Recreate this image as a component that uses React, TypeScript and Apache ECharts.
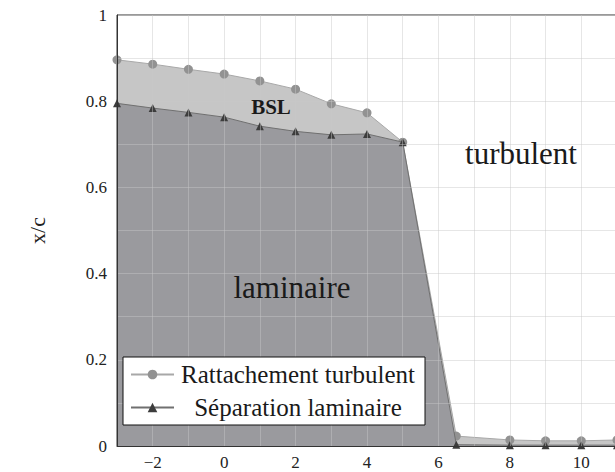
import React, { useEffect, useRef } from "react";
import * as echarts from "echarts";

const xValues = [-3, -2, -1, 0, 1, 2, 3, 4, 5, 6.5, 8, 9, 10, 11];
const rattachement = [0.896, 0.886, 0.874, 0.863, 0.847, 0.828, 0.794, 0.773, 0.705, 0.023, 0.014, 0.012, 0.012, 0.014];
const separation = [0.795, 0.784, 0.774, 0.763, 0.742, 0.730, 0.722, 0.724, 0.705, 0.003, 0.002, 0.002, 0.002, 0.002];
const seriesNames = ["Rattachement turbulent", "Séparation laminaire"];
const regionLabels = { bsl: "BSL", turbulent: "turbulent", laminaire: "laminaire" };
const yAxisName = "x/c";

const SERIF = "Liberation Serif";

export default function App() {
  const ref = useRef<HTMLDivElement>(null);
  useEffect(() => {
    if (!ref.current) return;
    const chart = echarts.init(ref.current, undefined, { renderer: "svg" });
    const pairs = (ys: number[]) => xValues.map((x, i) => [x, ys[i]]);
    const gridColor = "rgba(200,200,200,0.45)";
    chart.setOption({
      animation: false,
      backgroundColor: "#ffffff",
      grid: {
        left: 117,
        top: 15,
        width: 500,
        height: 431,
        show: true,
        containLabel: false,
        outerBoundsMode: "none",
        borderColor: "#333",
        borderWidth: 1,
        backgroundColor: "transparent",
      },
      xAxis: {
        type: "value",
        min: -3,
        max: 11,
        interval: 1,
        z: 5,
        axisLine: { show: true, onZero: false, lineStyle: { color: "#333", width: 1 } },
        axisTick: { show: false },
        splitLine: { show: true, lineStyle: { color: gridColor, width: 1 } },
        axisLabel: {
          margin: 8,
          fontFamily: SERIF,
          fontSize: 17,
          color: "#222",
          formatter: (v: number) => {
            if (Math.round(v) % 2 !== 0) return "";
            return v < 0 ? "\u2212" + Math.abs(v) : String(v);
          },
        },
      },
      yAxis: {
        type: "value",
        min: 0,
        max: 1,
        interval: 0.1,
        z: 5,
        name: yAxisName,
        nameLocation: "middle",
        nameRotate: 90,
        nameGap: 69,
        nameTextStyle: { fontFamily: SERIF, fontSize: 22, color: "#222" },
        axisLine: { show: true, onZero: false, lineStyle: { color: "#333", width: 1 } },
        axisTick: { show: false },
        splitLine: { show: true, lineStyle: { color: gridColor, width: 1 } },
        axisLabel: {
          margin: 10,
          fontFamily: SERIF,
          fontSize: 17,
          color: "#222",
          formatter: (v: number) => {
            const k = Math.round(v * 10);
            if (k % 2 !== 0) return "";
            if (k === 0) return "0";
            if (k === 10) return "1";
            return (k / 10).toFixed(1);
          },
        },
      },
      legend: {
        show: true,
        orient: "vertical",
        left: 123,
        top: 357,
        z: 10,
        padding: [5, 8, 5, 7],
        itemGap: 8,
        itemWidth: 43,
        itemHeight: 12,
        backgroundColor: "#ffffff",
        borderColor: "#111",
        borderWidth: 1,
        borderRadius: 0,
        data: seriesNames,
        formatter: (name: string) => `{t|${name}}`,
        textStyle: {
          color: "#1a1a1a",
          fontFamily: SERIF,
          rich: {
            t: { width: 238, align: "center", fontSize: 25, fontFamily: SERIF, color: "#1a1a1a", lineHeight: 28 },
          },
        },
      },
      series: [
        {
          name: seriesNames[0],
          type: "line",
          data: pairs(rattachement),
          symbol: "circle",
          symbolSize: 9,
          z: 2,
          itemStyle: { color: "#929292" },
          lineStyle: { color: "#a8a8a8", width: 1 },
          areaStyle: { color: "#c6c6c6", opacity: 1, origin: "start" },
        },
        {
          name: seriesNames[1],
          type: "line",
          data: pairs(separation),
          symbol: "triangle",
          symbolSize: 8,
          z: 3,
          itemStyle: { color: "#3c3c3c" },
          lineStyle: { color: "#707070", width: 1 },
          areaStyle: { color: "#9a9a9e", opacity: 1, origin: "start" },
        },
      ],
      graphic: [
        {
          type: "text",
          x: 271,
          y: 107,
          z: 20,
          style: {
            text: regionLabels.bsl,
            fontFamily: SERIF,
            fontWeight: "bold",
            fontSize: 21,
            fill: "#1a1a1a",
            textAlign: "center",
            textVerticalAlign: "middle",
          },
        },
        {
          type: "text",
          x: 521,
          y: 153,
          z: 20,
          style: {
            text: regionLabels.turbulent,
            fontFamily: SERIF,
            fontSize: 31,
            fill: "#1a1a1a",
            textAlign: "center",
            textVerticalAlign: "middle",
          },
        },
        {
          type: "text",
          x: 292,
          y: 287,
          z: 20,
          style: {
            text: regionLabels.laminaire,
            fontFamily: SERIF,
            fontSize: 31,
            fill: "#1a1a1a",
            textAlign: "center",
            textVerticalAlign: "middle",
          },
        },
      ],
    });
    return () => chart.dispose();
  }, []);
  return (
    <div
      ref={ref}
      style={{ position: "fixed", left: 0, top: 0, width: 615, height: 472, background: "#fff" }}
    />
  );
}
